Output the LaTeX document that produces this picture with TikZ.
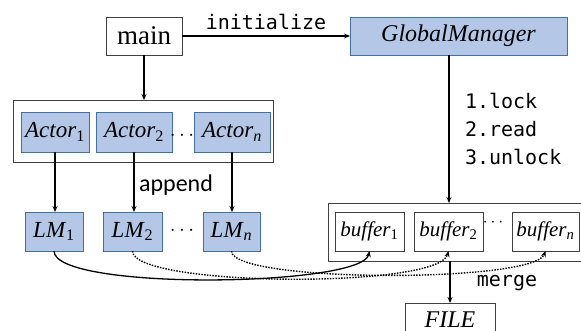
\documentclass[tikz,border=0pt]{standalone}
\usepackage{fontspec}
\setmainfont{Liberation Serif}
\newfontfamily\codefont{DejaVu Sans Mono}
\newfontfamily\labelfont{Carlito}
\usetikzlibrary{arrows.meta}

\definecolor{boxfill}{HTML}{B4C7E7}
\definecolor{boxline}{HTML}{41719C}
\definecolor{frameline}{HTML}{404040}

% italic variable name with a subscript index
\newcommand{\varidx}[2]{\textit{#1}\textsubscript{#2}}

\tikzset{
  every node/.style={inner sep=0pt, outer sep=0pt},
  bluebox/.style={draw=boxline, fill=boxfill, line width=0.9pt},
  whitebox/.style={draw=frameline, fill=white, line width=0.9pt},
  groupbox/.style={draw=frameline, line width=0.9pt},
  flow/.style={line width=1.3pt, -{Stealth[length=6pt,width=5pt]}},
  dotflow/.style={line width=1.4pt, dash pattern=on 1.5pt off 1.3pt,
                  -{Stealth[length=6pt,width=5pt]}},
  code/.style={font=\codefont\fontsize{20}{24}\selectfont},
  varlbl/.style={font=\fontsize{23}{27}\selectfont},
  buflbl/.style={font=\fontsize{21}{24}\selectfont},
  dotslbl/.style={font=\fontsize{20}{24}\selectfont},
}

\begin{document}
\begin{tikzpicture}[x=1pt, y=-1pt]
  \clip (0,0) rectangle (581,331);
  \fill[white] (0,0) rectangle (581,331);

  % top row
  \node[whitebox, minimum width=76pt, minimum height=38pt,
        font=\fontsize{27}{30}\selectfont] (main) at (144,36) {main};
  \node[bluebox, minimum width=217pt, minimum height=38pt,
        font=\itshape\fontsize{24}{28}\selectfont] (GM) at (458.5,36) {GlobalManager};

  % actors and their group frame
  \node[groupbox, minimum width=260pt, minimum height=62pt] (actors) at (143,131) {};
  \node[bluebox, minimum width=68pt, minimum height=40pt, varlbl] (A1) at (55,132) {\varidx{Actor}{1}};
  \node[bluebox, minimum width=76pt, minimum height=40pt, varlbl] (A2) at (134,132) {\varidx{Actor}{2}};
  \node[bluebox, minimum width=76pt, minimum height=40pt, varlbl] (An) at (232,132) {\varidx{Actor}{\itshape n}};
  \node[dotslbl] (adots) at (182,136) {$\cdots$};

  % local managers
  \node[bluebox, minimum width=58pt, minimum height=39pt, varlbl] (LM1) at (54,231.5) {\varidx{LM}{1}};
  \node[bluebox, minimum width=59pt, minimum height=39pt, varlbl] (LM2) at (132.5,231.5) {\varidx{LM}{2}};
  \node[bluebox, minimum width=57pt, minimum height=39pt, varlbl] (LMn) at (231.5,231.5) {\varidx{LM}{\itshape n}};
  \node[dotslbl] (ldots) at (182,231) {$\cdots$};

  % buffers and their group frame
  \node[groupbox, minimum width=254pt, minimum height=58pt] (bufs) at (455,232) {};
  \node[whitebox, minimum width=69pt, minimum height=39pt, buflbl] (B1) at (369.5,231.5) {\varidx{buffer}{1}};
  \node[whitebox, minimum width=69pt, minimum height=39pt, buflbl] (B2) at (448.5,231.5) {\varidx{buffer}{2}};
  \node[whitebox, minimum width=67pt, minimum height=39pt, buflbl] (Bn) at (545.5,231.5) {\varidx{buffer}{\itshape n}};
  \node[font=\fontsize{16}{19}\selectfont] (bdots) at (493,223) {$\cdots$};

  % output file (its lower edge runs past the frame)
  \node[whitebox, minimum width=90pt, minimum height=46pt,
        font=\itshape\fontsize{24}{28}\selectfont,
        text height=16.5pt, text depth=14.5pt] (FILE) at (450,326) {FILE};

  % connectors
  \draw[flow] (main.east) -- (GM.west)
    node[midway, above=6pt, code] (init) {initialize};
  \draw[flow] (main.south) -- (main.south |- actors.north);
  \draw[flow] (A1.south) -- (A1.south |- LM1.north);
  \draw[flow] (A2.south) -- (A2.south |- LM2.north);
  \draw[flow] (An.south) -- (An.south |- LMn.north);
  \node[font=\labelfont\fontsize{24}{28}\selectfont] (append) at (176,185) {append};

  \draw[flow] ([xshift=-9.5pt]GM.south) -- ([xshift=-9.5pt]GM.south |- bufs.north);
  \node[code, anchor=west] (s1) at (465,101) {1.lock};
  \node[code, anchor=west] (s2) at (465,129) {2.read};
  \node[code, anchor=west] (s3) at (465,157) {3.unlock};

  \draw[flow] (LM1.south) .. controls +(0,40) and +(-8,36) .. (B1.south);
  \draw[dotflow] (LM2.south) .. controls +(0,36) and +(-10,38) .. (B2.south);
  \draw[dotflow] (LMn.south) .. controls +(0,32) and +(-12,32) .. (Bn.south);

  \draw[flow] (FILE.north |- bufs.south) -- (FILE.north);
  \node[code] (merge) at (507,283) {merge};
\end{tikzpicture}
\end{document}
